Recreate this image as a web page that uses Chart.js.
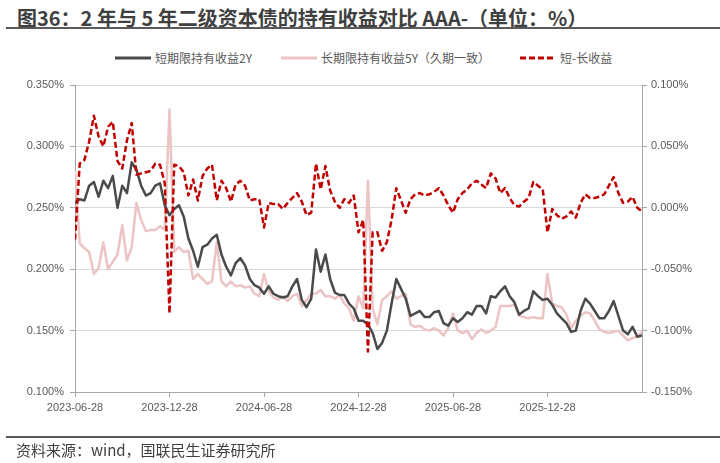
<!DOCTYPE html>
<html>
<head>
<meta charset="utf-8">
<script src="https://cdn.jsdelivr.net/npm/chart.js@4.4.1/dist/chart.umd.min.js"></script>
<style>
    body { margin: 0; background: #fff; }
    #wrap { position: relative; width: 720px; height: 463px; overflow: hidden; font-family: "Noto Sans CJK SC", "Noto Sans", sans-serif; }
    #title { position: absolute; left: 17px; top: 3px; font-size: 20px; font-weight: bold; color: #404040; white-space: nowrap; }
    #topline { position: absolute; left: 6px; right: 0; top: 27px; height: 2px; background: #595959; }
    #legend { position: absolute; top: 48px; left: 0; width: 720px; height: 20px; font-size: 12px; color: #595959; }
    .item { position: absolute; top: 0; height: 20px; line-height: 20px; white-space: nowrap; }
    .item svg { position: absolute; left: 0; top: 8px; }
    .item span { position: absolute; top: 0; }
    #chart { position: absolute; left: 0; top: 0; }
    #bottomline { position: absolute; left: 6px; right: 0; top: 436px; height: 2px; background: #595959; }
    #source { position: absolute; left: 16px; top: 439px; font-size: 15px; color: #404040; white-space: nowrap; }
</style>
</head>
<body>
<div id="wrap">
    <div id="title">图36：2 年与 5 年二级资本债的持有收益对比 AAA-（单位：%）</div>
    <div id="topline"></div>
    <div id="legend">
        <div class="item" style="left:115px">
            <svg width="36" height="4"><line x1="0" y1="2" x2="36" y2="2" stroke="#4a4a4a" stroke-width="3"/></svg>
            <span style="left:40px">短期限持有收益2Y</span>
        </div>
        <div class="item" style="left:281px">
            <svg width="36" height="4"><line x1="0" y1="2" x2="36" y2="2" stroke="#ecc4c4" stroke-width="3"/></svg>
            <span style="left:40px">长期限持有收益5Y（久期一致）</span>
        </div>
        <div class="item" style="left:520px">
            <svg width="36" height="4"><line x1="0" y1="2" x2="36" y2="2" stroke="#c00000" stroke-width="3" stroke-dasharray="6,3"/></svg>
            <span style="left:40px">短-长收益</span>
        </div>
    </div>
    <canvas id="chart" width="720" height="463"></canvas>
    <div id="bottomline"></div>
    <div id="source">资料来源：wind，国联民生证券研究所</div>
</div>

<script>
// x tick labels, one every 20 points
var tickLabels = ['2023-06-28', '2023-12-28', '2024-06-28', '2024-12-28', '2025-06-28', '2025-12-28'];

// 短期限持有收益2Y (%), left axis
var shortYield = [
    0.254, 0.257, 0.256, 0.268, 0.271, 0.259, 0.272, 0.266, 0.276, 0.250,
    0.268, 0.262, 0.287, 0.281, 0.268, 0.260, 0.262, 0.268, 0.270, 0.252,
    0.244, 0.249, 0.252, 0.243, 0.225, 0.215, 0.202, 0.218, 0.220, 0.225,
    0.228, 0.212, 0.202, 0.195, 0.205, 0.209, 0.203, 0.192, 0.187, 0.185,
    0.180, 0.186, 0.180, 0.178, 0.177, 0.178, 0.186, 0.192, 0.175, 0.169,
    0.176, 0.216, 0.198, 0.212, 0.192, 0.181, 0.179, 0.179, 0.172, 0.168,
    0.158, 0.158, 0.155, 0.148, 0.135, 0.140, 0.150, 0.172, 0.192, 0.184,
    0.176, 0.162, 0.164, 0.166, 0.161, 0.161, 0.165, 0.166, 0.156, 0.154,
    0.160, 0.157, 0.160, 0.165, 0.163, 0.170, 0.170, 0.164, 0.178, 0.177,
    0.182, 0.186, 0.178, 0.173, 0.163, 0.166, 0.168, 0.182, 0.178, 0.175,
    0.176, 0.171, 0.164, 0.160, 0.156, 0.149, 0.150, 0.166, 0.176, 0.172,
    0.166, 0.160, 0.160, 0.166, 0.174, 0.162, 0.150, 0.147, 0.153, 0.145,
    0.146
];

// 长期限持有收益5Y（久期一致） (%), left axis
var longYield = [
    0.280, 0.221, 0.217, 0.214, 0.196, 0.201, 0.222, 0.200, 0.206, 0.212,
    0.236, 0.207, 0.218, 0.254, 0.240, 0.231, 0.232, 0.232, 0.235, 0.232,
    0.330, 0.214, 0.218, 0.214, 0.215, 0.192, 0.196, 0.192, 0.188, 0.190,
    0.222, 0.190, 0.186, 0.190, 0.186, 0.187, 0.185, 0.186, 0.180, 0.178,
    0.196, 0.182, 0.177, 0.175, 0.178, 0.174, 0.178, 0.180, 0.170, 0.175,
    0.180, 0.180, 0.183, 0.178, 0.178, 0.176, 0.179, 0.172, 0.168, 0.158,
    0.178, 0.168, 0.272, 0.168, 0.155, 0.175, 0.178, 0.182, 0.176, 0.178,
    0.180, 0.155, 0.153, 0.154, 0.151, 0.150, 0.152, 0.150, 0.146, 0.152,
    0.164, 0.150, 0.148, 0.150, 0.143, 0.148, 0.151, 0.148, 0.150, 0.153,
    0.170, 0.170, 0.170, 0.171, 0.162, 0.161, 0.160, 0.161, 0.160, 0.160,
    0.196, 0.172, 0.170, 0.169, 0.163, 0.152, 0.158, 0.162, 0.165, 0.164,
    0.158, 0.151, 0.149, 0.148, 0.149, 0.150, 0.146, 0.142, 0.144, 0.145,
    0.149
];

// 短-长收益 (%), right axis
var spread = [
    -0.026, 0.036, 0.039, 0.054, 0.075, 0.058, 0.050, 0.066, 0.070, 0.038,
    0.032, 0.055, 0.069, 0.027, 0.028, 0.029, 0.030, 0.036, 0.035, 0.020,
    -0.086, 0.035, 0.034, 0.029, 0.010, 0.023, 0.006, 0.026, 0.032, 0.035,
    0.006, 0.022, 0.016, 0.005, 0.019, 0.022, 0.018, 0.006, 0.007, 0.007,
    -0.016, 0.004, 0.003, 0.003, -0.001, 0.004, 0.008, 0.012, 0.005, -0.006,
    -0.004, 0.036, 0.015, 0.034, 0.014, 0.005, 0.000, 0.007, 0.004, 0.010,
    -0.020, -0.010, -0.117, -0.020, -0.020, -0.035, -0.028, -0.010, 0.016, 0.006,
    -0.004, 0.007, 0.011, 0.012, 0.010, 0.011, 0.013, 0.016, 0.010, 0.002,
    -0.004, 0.007, 0.012, 0.015, 0.020, 0.022, 0.019, 0.016, 0.028, 0.024,
    0.012, 0.016, 0.008, 0.002, 0.001, 0.005, 0.008, 0.021, 0.018, 0.015,
    -0.020, -0.001, -0.006, -0.009, -0.007, -0.003, -0.008, 0.004, 0.011, 0.008,
    0.008, 0.009, 0.011, 0.018, 0.025, 0.012, 0.004, 0.005, 0.009, 0.000,
    -0.003
];

function toPoints(arr) {
    return arr.map(function(v, i) { return { x: i, y: v }; });
}

function pct(v) {
    if (Math.abs(v) < 1e-9) v = 0;
    return v.toFixed(3) + '%';
}

var tickFont = { family: 'Liberation Sans', size: 11 };
var axisColor = '#a6a6a6';

const data = {
    datasets: [
        {
            label: '短期限持有收益2Y',
            data: toPoints(shortYield),
            borderColor: '#4a4a4a',
            borderWidth: 2.5,
            yAxisID: 'y',
            order: 1
        },
        {
            label: '长期限持有收益5Y（久期一致）',
            data: toPoints(longYield),
            borderColor: '#ecc4c4',
            borderWidth: 2.5,
            yAxisID: 'y',
            order: 2
        },
        {
            label: '短-长收益',
            data: toPoints(spread),
            borderColor: '#c00000',
            borderWidth: 2.5,
            borderDash: [6, 3],
            yAxisID: 'y1',
            order: 0
        }
    ]
};

const config = {
    type: 'line',
    data: data,
    options: {
        responsive: false,
        animation: false,
        events: [],
        elements: {
            point: { radius: 0 },
            line: { tension: 0, borderJoinStyle: 'round' }
        },
        layout: { padding: { top: 85, bottom: 41, left: 0, right: 0 } },
        plugins: {
            legend: { display: false },
            tooltip: { enabled: false }
        },
        scales: {
            x: {
                type: 'linear',
                min: 0,
                max: 120,
                afterFit: function(s) { s.height = 30; },
                border: { color: axisColor },
                grid: { drawOnChartArea: false, drawTicks: true, tickLength: 5, color: axisColor },
                ticks: {
                    stepSize: 20,
                    autoSkip: false,
                    maxRotation: 0,
                    padding: 4,
                    color: '#595959',
                    font: tickFont,
                    callback: function(v) {
                        return v % 20 === 0 ? tickLabels[v / 20] : '';
                    }
                }
            },
            y: {
                position: 'left',
                min: 0.1,
                max: 0.35,
                afterFit: function(s) { s.width = 75; },
                border: { color: axisColor },
                grid: { color: '#d9d9d9', tickColor: axisColor, tickLength: 5 },
                ticks: { stepSize: 0.05, padding: 6, color: '#595959', font: tickFont, callback: pct }
            },
            y1: {
                position: 'right',
                min: -0.15,
                max: 0.1,
                afterFit: function(s) { s.width = 78; },
                border: { color: axisColor },
                grid: { drawOnChartArea: false, tickColor: axisColor, tickLength: 5 },
                ticks: { stepSize: 0.05, padding: 4, color: '#595959', font: tickFont, callback: pct }
            }
        }
    }
};

const myChart = new Chart(document.getElementById('chart'), config);
</script>
</body>
</html>
